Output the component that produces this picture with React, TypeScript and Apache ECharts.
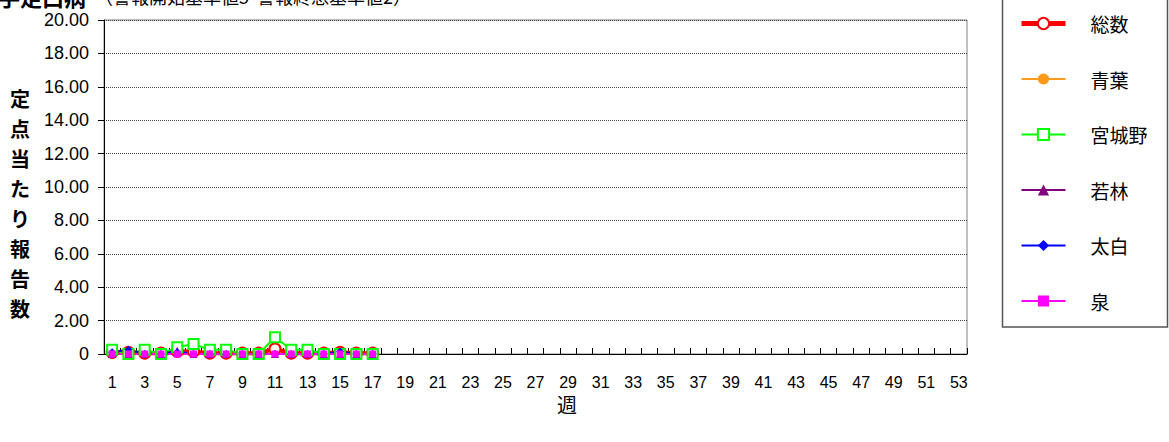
import React, { useEffect, useRef } from "react";
import * as echarts from "echarts";

const weeks: string[] = Array.from({ length: 53 }, (_, i) => String(i + 1));
const yTicks = [0, 2, 4, 6, 8, 10, 12, 14, 16, 18, 20];
const seriesNames = ["総数", "青葉", "宮城野", "若林", "太白", "泉"];

const total = [0.1, 0.1, 0.05, 0.05, 0.15, 0.15, 0.05, 0.05, 0.05, 0.05, 0.3, 0.05, 0.05, 0.05, 0.1, 0.05, 0.05];
const aoba = [0, 0, 0, 0, 0.1, 0, 0, 0, 0, 0, 0, 0, 0, 0, 0, 0, 0];
const miyagino = [0.25, 0, 0.25, 0, 0.4, 0.6, 0.25, 0.25, 0, 0, 1.0, 0.25, 0.25, 0, 0, 0, 0];
const wakabayashi = [0, 0, 0, 0, 0.2, 0, 0, 0, 0, 0, 0, 0, 0, 0, 0, 0, 0];
const taihaku = [0.1, 0.25, 0, 0, 0.1, 0, 0, 0, 0, 0, 0, 0, 0, 0, 0.15, 0, 0];
const izumi = [0, 0, 0, 0, 0, 0, 0, 0, 0, 0, 0, 0, 0, 0, 0, 0, 0];

const FONT = "'Liberation Sans', 'Noto Sans CJK JP', sans-serif";
const CJK = "'Noto Sans CJK JP', sans-serif";

function pad(arr: number[]) {
  return weeks.map((_, i) => (i < arr.length ? arr[i] : null));
}

export default function App() {
  const ref = useRef<HTMLDivElement>(null);
  useEffect(() => {
    if (!ref.current) return;
    const chart = echarts.init(ref.current, null, { renderer: "svg" });
    const mk = (name: string, data: number[], color: string, symbol: string, size: number, width: number, hollow: boolean) => ({
      name,
      type: "line",
      data: pad(data),
      symbol,
      symbolSize: size,
      showAllSymbol: true,
      lineStyle: { color, width },
      itemStyle: hollow
        ? { color: "#fff", borderColor: color, borderWidth: 2 }
        : { color, borderColor: color, borderWidth: 0 },
      emphasis: { disabled: true },
    });
    chart.setOption({
      animation: false,
      grid: { left: 104, top: 20, right: 202, bottom: 88, show: true, borderColor: "#808080", borderWidth: 1 },
      legend: {
        orient: "vertical",
        left: 1014,
        top: 9,
        itemWidth: 44,
        itemHeight: 14,
        itemGap: 36.5,
        data: seriesNames.map((n, i) => (i === 0 ? { name: n, lineStyle: { width: 5 } } : { name: n })),
        textStyle: { fontSize: 19, color: "#000", fontFamily: CJK, padding: [0, 0, 0, 20] },
      },
      xAxis: {
        type: "category",
        data: weeks,
        boundaryGap: true,
        axisLine: { lineStyle: { color: "#000", width: 1 } },
        axisTick: { show: true, inside: true, length: 6, interval: 0, alignWithLabel: false, lineStyle: { color: "#000" } },
        axisLabel: { interval: 1, fontSize: 16, color: "#000", margin: 20, fontFamily: FONT },
        splitLine: { show: false },
      },
      yAxis: {
        type: "value",
        min: yTicks[0],
        max: yTicks[yTicks.length - 1],
        interval: 2,
        axisLine: { show: true, lineStyle: { color: "#000", width: 1 } },
        axisTick: { show: true, inside: false, length: 6, lineStyle: { color: "#000" } },
        axisLabel: {
          fontSize: 18,
          color: "#000",
          margin: 15,
          fontFamily: FONT,
          formatter: (v: number) => (v === 0 ? "0" : v.toFixed(2)),
        },
        splitLine: { show: true, lineStyle: { color: "#444", type: [1, 1], width: 1 } },
      },
      graphic: [
        {
          type: "rect",
          shape: { x: 1002.5, y: -5, width: 165, height: 332 },
          style: { fill: "#fff", stroke: "#555", lineWidth: 1.5 },
          z: -1,
        },
        {
          type: "text",
          x: -2,
          y: -15,
          style: { text: "手足口病", fontSize: 22, fontWeight: "bold", fill: "#000", fontFamily: CJK },
        },
        {
          type: "text",
          x: 95,
          y: -13,
          style: { text: "（警報開始基準値5  警報終息基準値2）", fontSize: 18, fill: "#000", fontFamily: CJK },
        },
        {
          type: "text",
          x: 20,
          y: 203,
          style: {
            text: "定\n点\n当\nた\nり\n報\n告\n数",
            fontSize: 20,
            lineHeight: 30,
            fontWeight: "bold",
            fill: "#000",
            align: "center",
            verticalAlign: "middle",
            fontFamily: CJK,
          },
        },
        {
          type: "text",
          x: 567,
          y: 404,
          style: { text: "週", fontSize: 20, fill: "#000", align: "center", verticalAlign: "middle", fontFamily: CJK },
        },
      ],
      series: [
        mk("総数", total, "#ff0000", "circle", 11, 4, true),
        mk("青葉", aoba, "#ff9a1a", "circle", 7, 2, false),
        mk("宮城野", miyagino, "#00ff00", "rect", 10, 2, true),
        mk("若林", wakabayashi, "#800080", "triangle", 8, 2, false),
        mk("太白", taihaku, "#0000ff", "diamond", 8, 2, false),
        mk("泉", izumi, "#ff00ff", "rect", 7, 2, false),
      ],
    });
    return () => chart.dispose();
  }, []);
  return <div ref={ref} style={{ width: 1169, height: 442, position: "absolute", left: 0, top: 0 }} />;
}
